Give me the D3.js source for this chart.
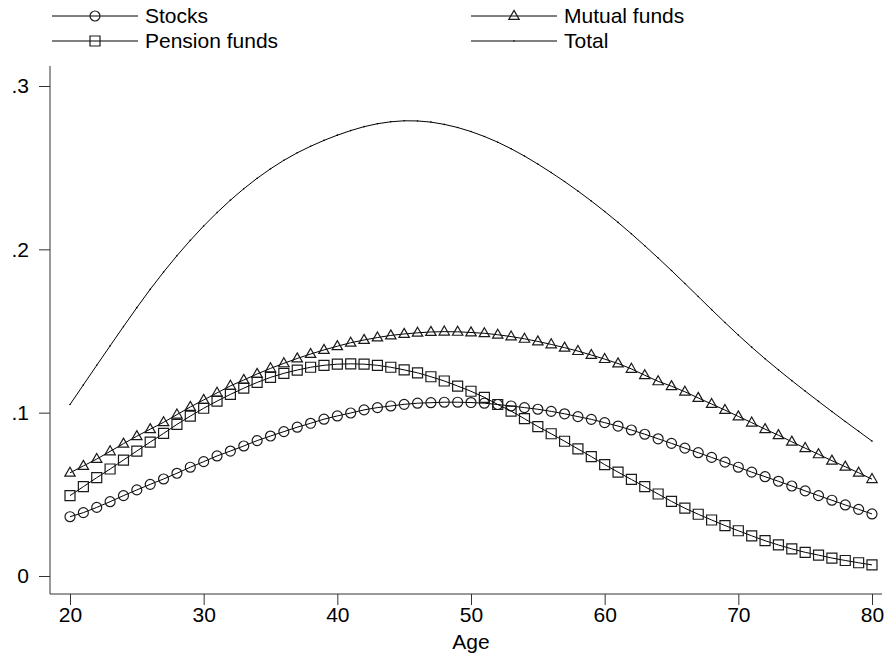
<!DOCTYPE html>
<html>
<head>
<meta charset="utf-8">
<script src="https://cdn.jsdelivr.net/npm/d3@7"></script>
<style>
  html, body { margin: 0; padding: 0; background: #fff; }
  svg { display: block; font-family: "Liberation Sans", Arial, Helvetica, sans-serif; }
</style>
</head>
<body>
<svg id="chart" width="890" height="655"></svg>
<script>
// Ages on the horizontal axis
const ages = d3.range(20, 81);

// Predicted shares by age, one value per year of age
const stocks = [
  0.0363, 0.0388, 0.0420, 0.0455, 0.0492, 0.0527, 0.0561, 0.0594, 0.0629, 0.0666,
  0.0700, 0.0735, 0.0765, 0.0796, 0.0829, 0.0857, 0.0884, 0.0911, 0.0935, 0.0960,
  0.0980, 0.0998, 0.1017, 0.1031, 0.1041, 0.1051, 0.1058, 0.1061, 0.1064, 0.1064,
  0.1062, 0.1058, 0.1050, 0.1041, 0.1031, 0.1021, 0.1008, 0.0993, 0.0976, 0.0959,
  0.0939, 0.0918, 0.0894, 0.0868, 0.0840, 0.0812, 0.0783, 0.0755, 0.0726, 0.0697,
  0.0666, 0.0636, 0.0608, 0.0580, 0.0551, 0.0521, 0.0492, 0.0464, 0.0435, 0.0408,
  0.0380
];
const mutualFunds = [
  0.0632, 0.0674, 0.0716, 0.0763, 0.0810, 0.0856, 0.0899, 0.0941, 0.0988, 0.1035,
  0.1078, 0.1121, 0.1164, 0.1200, 0.1237, 0.1271, 0.1302, 0.1332, 0.1359, 0.1384,
  0.1407, 0.1428, 0.1445, 0.1460, 0.1473, 0.1482, 0.1489, 0.1494, 0.1496, 0.1495,
  0.1491, 0.1486, 0.1477, 0.1466, 0.1452, 0.1436, 0.1418, 0.1398, 0.1377, 0.1353,
  0.1328, 0.1301, 0.1268, 0.1229, 0.1192, 0.1162, 0.1128, 0.1090, 0.1053, 0.1016,
  0.0977, 0.0939, 0.0899, 0.0862, 0.0822, 0.0783, 0.0745, 0.0706, 0.0669, 0.0632,
  0.0593
];
const pensionFunds = [
  0.0492, 0.0547, 0.0602, 0.0655, 0.0710, 0.0765, 0.0820, 0.0873, 0.0928, 0.0979,
  0.1027, 0.1071, 0.1112, 0.1150, 0.1185, 0.1216, 0.1241, 0.1261, 0.1278, 0.1290,
  0.1297, 0.1299, 0.1297, 0.1290, 0.1278, 0.1262, 0.1244, 0.1220, 0.1194, 0.1163,
  0.1131, 0.1094, 0.1050, 0.1010, 0.0963, 0.0915, 0.0871, 0.0825, 0.0778, 0.0731,
  0.0682, 0.0636, 0.0591, 0.0547, 0.0502, 0.0457, 0.0415, 0.0378, 0.0343, 0.0309,
  0.0277, 0.0246, 0.0216, 0.0190, 0.0166, 0.0145, 0.0128, 0.0110, 0.0095, 0.0081,
  0.0068
];
const total = [
  0.1050, 0.1170, 0.1290, 0.1409, 0.1527, 0.1643, 0.1755, 0.1861, 0.1961, 0.2055,
  0.2143, 0.2225, 0.2301, 0.2371, 0.2435, 0.2493, 0.2545, 0.2591, 0.2631, 0.2667,
  0.2699, 0.2727, 0.2751, 0.2769, 0.2781, 0.2787, 0.2786, 0.2779, 0.2765, 0.2746,
  0.2721, 0.2691, 0.2656, 0.2616, 0.2571, 0.2522, 0.2470, 0.2415, 0.2357, 0.2296,
  0.2232, 0.2165, 0.2095, 0.2022, 0.1947, 0.1870, 0.1791, 0.1711, 0.1631, 0.1552,
  0.1475, 0.1401, 0.1330, 0.1262, 0.1196, 0.1132, 0.1069, 0.1007, 0.0946, 0.0886,
  0.0826
];

const seriesNames = ["Stocks", "Mutual funds", "Pension funds", "Total"];
const yTicks = [0, 0.1, 0.2, 0.3];
const yTickLabels = ["0", ".1", ".2", ".3"];
const xTicks = [20, 30, 40, 50, 60, 70, 80];
const xTitle = "Age";

const series = [
  { name: seriesNames[0], values: stocks, symbol: "circle" },
  { name: seriesNames[1], values: mutualFunds, symbol: "triangle" },
  { name: seriesNames[2], values: pensionFunds, symbol: "square" },
  { name: seriesNames[3], values: total, symbol: "point" }
];

const svg = d3.select("#chart");
const fontSize = 21;
const axisColor = "#333";

const x = d3.scaleLinear().domain([20, 80]).range([70, 872]);
const y = d3.scaleLinear().domain([0, 0.3]).range([576, 86]);

const axisX0 = 50, axisY0 = 594;

// Marker glyph paths centred on the origin
function markerPath(symbol) {
  if (symbol === "circle") return d3.symbol(d3.symbolCircle, 78)();
  if (symbol === "square") return d3.symbol(d3.symbolSquare, 100)();
  if (symbol === "triangle") {
    const w = 5.2, h = 9;
    return `M0,${-h * 0.62}L${w},${h * 0.38}L${-w},${h * 0.38}Z`;
  }
  return d3.symbol(d3.symbolCircle, 2)();
}

function drawMarker(g, symbol, cx, cy) {
  const p = g.append("path")
    .attr("d", markerPath(symbol))
    .attr("transform", `translate(${cx},${cy})`);
  if (symbol === "point") {
    p.attr("fill", "#000").attr("stroke", "none");
  } else {
    p.attr("fill", "none").attr("stroke", "#1a1a1a").attr("stroke-width", 1.2);
  }
}

// Axes
const yAxis = d3.axisLeft(y)
  .tickValues(yTicks)
  .tickFormat((d, i) => yTickLabels[i])
  .tickSize(11)
  .tickPadding(10);
const gy = svg.append("g").attr("transform", `translate(${axisX0},0)`).call(yAxis);
gy.select(".domain").remove();

const xAxis = d3.axisBottom(x)
  .tickValues(xTicks)
  .tickFormat(d3.format("d"))
  .tickSize(11)
  .tickPadding(2);
const gx = svg.append("g").attr("transform", `translate(0,${axisY0})`).call(xAxis);
gx.select(".domain").remove();

[gx, gy].forEach(g => {
  g.selectAll(".tick line").attr("stroke", axisColor).attr("stroke-width", 1);
  g.selectAll(".tick text")
    .attr("fill", "#000")
    .style("font-size", fontSize + "px")
    .style("font-family", "'Liberation Sans', Arial, sans-serif");
});

// Axis lines, extended past the plotted range
svg.append("line")
  .attr("x1", axisX0).attr("x2", axisX0)
  .attr("y1", 66).attr("y2", axisY0)
  .attr("stroke", axisColor).attr("stroke-width", 1);
svg.append("line")
  .attr("x1", axisX0).attr("x2", 882)
  .attr("y1", axisY0).attr("y2", axisY0)
  .attr("stroke", axisColor).attr("stroke-width", 1);

// Axis title
svg.append("text")
  .attr("x", (x(20) + x(80)) / 2)
  .attr("y", 649)
  .attr("text-anchor", "middle")
  .style("font-size", fontSize + "px")
  .text(xTitle);

// Series lines and markers
const line = d3.line()
  .x((d, i) => x(ages[i]))
  .y(d => y(d));

series.forEach(s => {
  const g = svg.append("g").attr("class", "series");
  g.append("path")
    .datum(s.values)
    .attr("d", line)
    .attr("fill", "none")
    .attr("stroke", "#000")
    .attr("stroke-width", 1);
  s.values.forEach((v, i) => drawMarker(g, s.symbol, x(ages[i]), y(v)));
});

// Legend: two columns, two rows
const legendPos = [
  { lx: 52, ly: 16 },
  { lx: 471, ly: 16 },
  { lx: 52, ly: 41 },
  { lx: 471, ly: 41 }
];
series.forEach((s, i) => {
  const p = legendPos[i];
  const g = svg.append("g").attr("class", "legend-item");
  g.append("line")
    .attr("x1", p.lx).attr("x2", p.lx + 86)
    .attr("y1", p.ly).attr("y2", p.ly)
    .attr("stroke", "#000").attr("stroke-width", 1);
  drawMarker(g, s.symbol, p.lx + 43, p.ly);
  g.append("text")
    .attr("x", p.lx + 93)
    .attr("y", p.ly)
    .attr("dy", "0.35em")
    .style("font-size", fontSize + "px")
    .text(s.name);
});
</script>
</body>
</html>
